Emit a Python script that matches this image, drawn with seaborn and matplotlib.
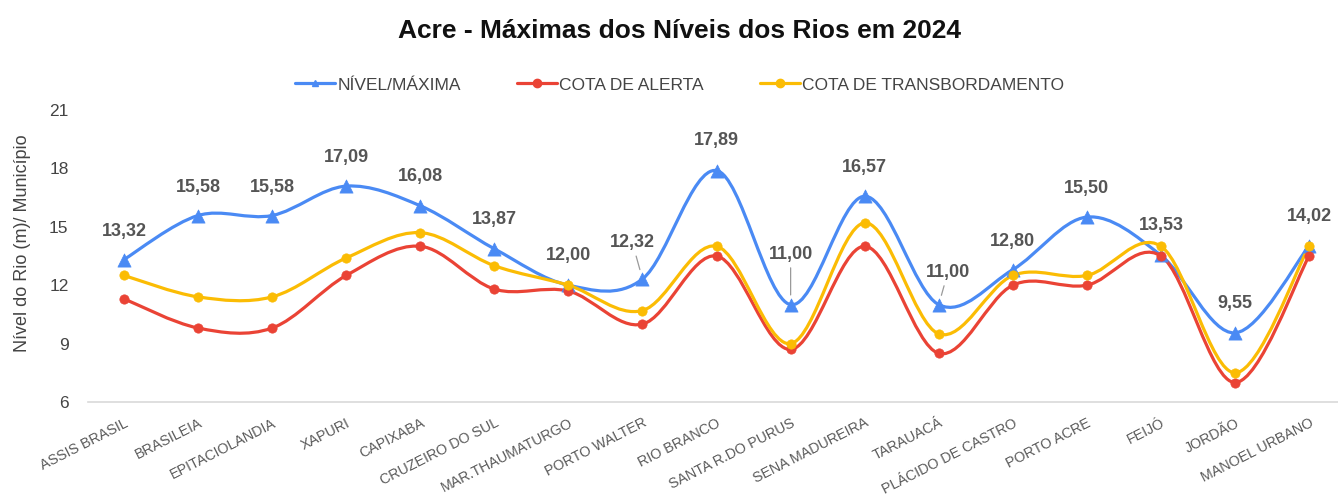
import numpy as np
import pandas as pd
import matplotlib
matplotlib.use("Agg")
import matplotlib.pyplot as plt
from matplotlib.path import Path
from matplotlib.patches import PathPatch
from matplotlib.lines import Line2D
import seaborn as sns

# ---------------- data ----------------
municipios = ["ASSIS BRASIL", "BRASILEIA", "EPITACIOLANDIA", "XAPURI", "CAPIXABA",
              "CRUZEIRO DO SUL", "MAR.THAUMATURGO", "PORTO WALTER", "RIO BRANCO",
              "SANTA R.DO PURUS", "SENA MADUREIRA", "TARAUACÁ", "PLÁCIDO DE CASTRO",
              "PORTO ACRE", "FEIJÓ", "JORDÃO", "MANOEL URBANO"]
nivel_maxima = [13.32, 15.58, 15.58, 17.09, 16.08, 13.87, 12.00, 12.32, 17.89,
                11.00, 16.57, 11.00, 12.80, 15.50, 13.53, 9.55, 14.02]
cota_alerta = [11.3, 9.8, 9.8, 12.5, 14.0, 11.8, 11.7, 10.0, 13.5,
               8.7, 14.0, 8.5, 12.0, 12.0, 13.5, 7.0, 13.5]
cota_transbordamento = [12.5, 11.4, 11.4, 13.4, 14.7, 13.0, 12.0, 10.7, 14.0,
                        9.0, 15.2, 9.5, 12.5, 12.5, 14.0, 7.5, 14.0]
series_names = ["NÍVEL/MÁXIMA", "COTA DE ALERTA", "COTA DE TRANSBORDAMENTO"]
yticks = [6, 9, 12, 15, 18, 21]

# ---------------- styles ----------------
colors = {"NÍVEL/MÁXIMA": "#4A8AF4", "COTA DE ALERTA": "#EA4335",
          "COTA DE TRANSBORDAMENTO": "#FBBC04"}
markers = {"NÍVEL/MÁXIMA": "^", "COTA DE ALERTA": "o", "COTA DE TRANSBORDAMENTO": "o"}
msize = {"NÍVEL/MÁXIMA": 90, "COTA DE ALERTA": 45, "COTA DE TRANSBORDAMENTO": 45}
# label offsets in pixels (dx, dy) relative to the point
label_offsets = [(0, 28), (0, 28), (0, 28), (0, 29), (0, 29), (0, 29), (0, 30),
                 (-10, 36), (0, 30), (0, 50), (0, 29), (9, 32), (0, 28),
                 (0, 29), (0, 30), (0, 29), (0, 29)]
leader = [False] * 7 + [True, False, True, False, True] + [False] * 5

sns.set_theme(style="white")
plt.rcParams["font.family"] = ["Liberation Sans", "DejaVu Sans"]

W, H, DPI = 1338, 496, 100
fig = plt.figure(figsize=(W / DPI, H / DPI), dpi=DPI)
ax = fig.add_axes([88 / W, (H - 402) / H, (1338 - 88) / W, (402 - 110) / H])

pos = np.arange(len(municipios))
df = pd.DataFrame({
    "pos": np.tile(pos, 3),
    "municipio": municipios * 3,
    "valor": nivel_maxima + cota_alerta + cota_transbordamento,
    "serie": np.repeat(series_names, len(municipios)),
})


def smooth_path(x, y):
    x = np.asarray(x, float)
    y = np.asarray(y, float)
    n = len(x)
    verts = [(x[0], y[0])]
    codes = [Path.MOVETO]
    for i in range(n - 1):
        p0 = np.array([x[max(i - 1, 0)], y[max(i - 1, 0)]])
        p1 = np.array([x[i], y[i]])
        p2 = np.array([x[i + 1], y[i + 1]])
        p3 = np.array([x[min(i + 2, n - 1)], y[min(i + 2, n - 1)]])
        c1 = p1 + (p2 - p0) / 6.0
        c2 = p2 - (p3 - p1) / 6.0
        verts += [tuple(c1), tuple(c2), tuple(p2)]
        codes += [Path.CURVE4] * 3
    return Path(verts, codes)


for name in series_names:
    sub = df[df["serie"] == name]
    patch = PathPatch(smooth_path(sub["pos"], sub["valor"]), facecolor="none",
                      edgecolor=colors[name], lw=2.3, capstyle="round",
                      joinstyle="round", zorder=2)
    ax.add_patch(patch)

for name in series_names:
    sub = df[df["serie"] == name]
    sns.scatterplot(data=sub, x="pos", y="valor", marker=markers[name],
                    color=colors[name], s=msize[name], edgecolor=colors[name],
                    linewidth=0.5, ax=ax, zorder=3, legend=False)

# data labels for NÍVEL/MÁXIMA
px2pt = 72 / DPI
for i, (xv, yv) in enumerate(zip(pos, nivel_maxima)):
    dx, dy = label_offsets[i]
    txt = f"{yv:.2f}".replace(".", ",")
    kw = {}
    if leader[i]:
        kw["arrowprops"] = dict(arrowstyle="-", color="#9a9a9a", lw=0.9,
                                shrinkA=1, shrinkB=7)
    ax.annotate(txt, xy=(xv, yv), xytext=(dx * px2pt, dy * px2pt),
                textcoords="offset points", ha="center", va="center",
                fontsize=13, fontweight="bold", color="#555555", zorder=4, **kw)

ax.set_xlim(-0.486, 16.39)
ax.set_ylim(6, 21)
ax.set_yticks(yticks)
ax.set_yticklabels([str(t) for t in yticks])
ax.set_xticks(pos)
ax.set_xticklabels(municipios, rotation=27, ha="right", rotation_mode="anchor",
                   fontsize=10.3, color="#5a5a5a")
ax.tick_params(axis="y", length=0, pad=14, labelsize=12.5, labelcolor="#444444")
ax.tick_params(axis="x", length=0, pad=10)
ax.set_xlabel("")
ax.set_ylabel("")
for s in ["top", "right", "left"]:
    ax.spines[s].set_visible(False)
ax.spines["bottom"].set_color("#d9d9d9")
ax.spines["bottom"].set_linewidth(1.2)

fig.text(0.508, 1 - 31 / H, "Acre - Máximas dos Níveis dos Rios em 2024",
         ha="center", va="center", fontsize=19, fontweight="bold", color="#111111")
fig.text(23 / W, 1 - 243 / H, "Nível do Rio (m)/ Município", rotation=90,
         ha="center", va="center", fontsize=13, color="#444444")

handles = [Line2D([0], [0], color=colors[n], lw=2.3, marker=markers[n],
                  markersize=5 if n == "NÍVEL/MÁXIMA" else 6) for n in series_names]
fig.legend(handles, series_names, loc="center", bbox_to_anchor=(0.508, 1 - 85 / H),
           ncol=3, frameon=False, fontsize=12.5, handlelength=2.3,
           handletextpad=0.15, columnspacing=3.2, labelcolor="#444444")

fig.savefig("out.png", dpi=DPI)
